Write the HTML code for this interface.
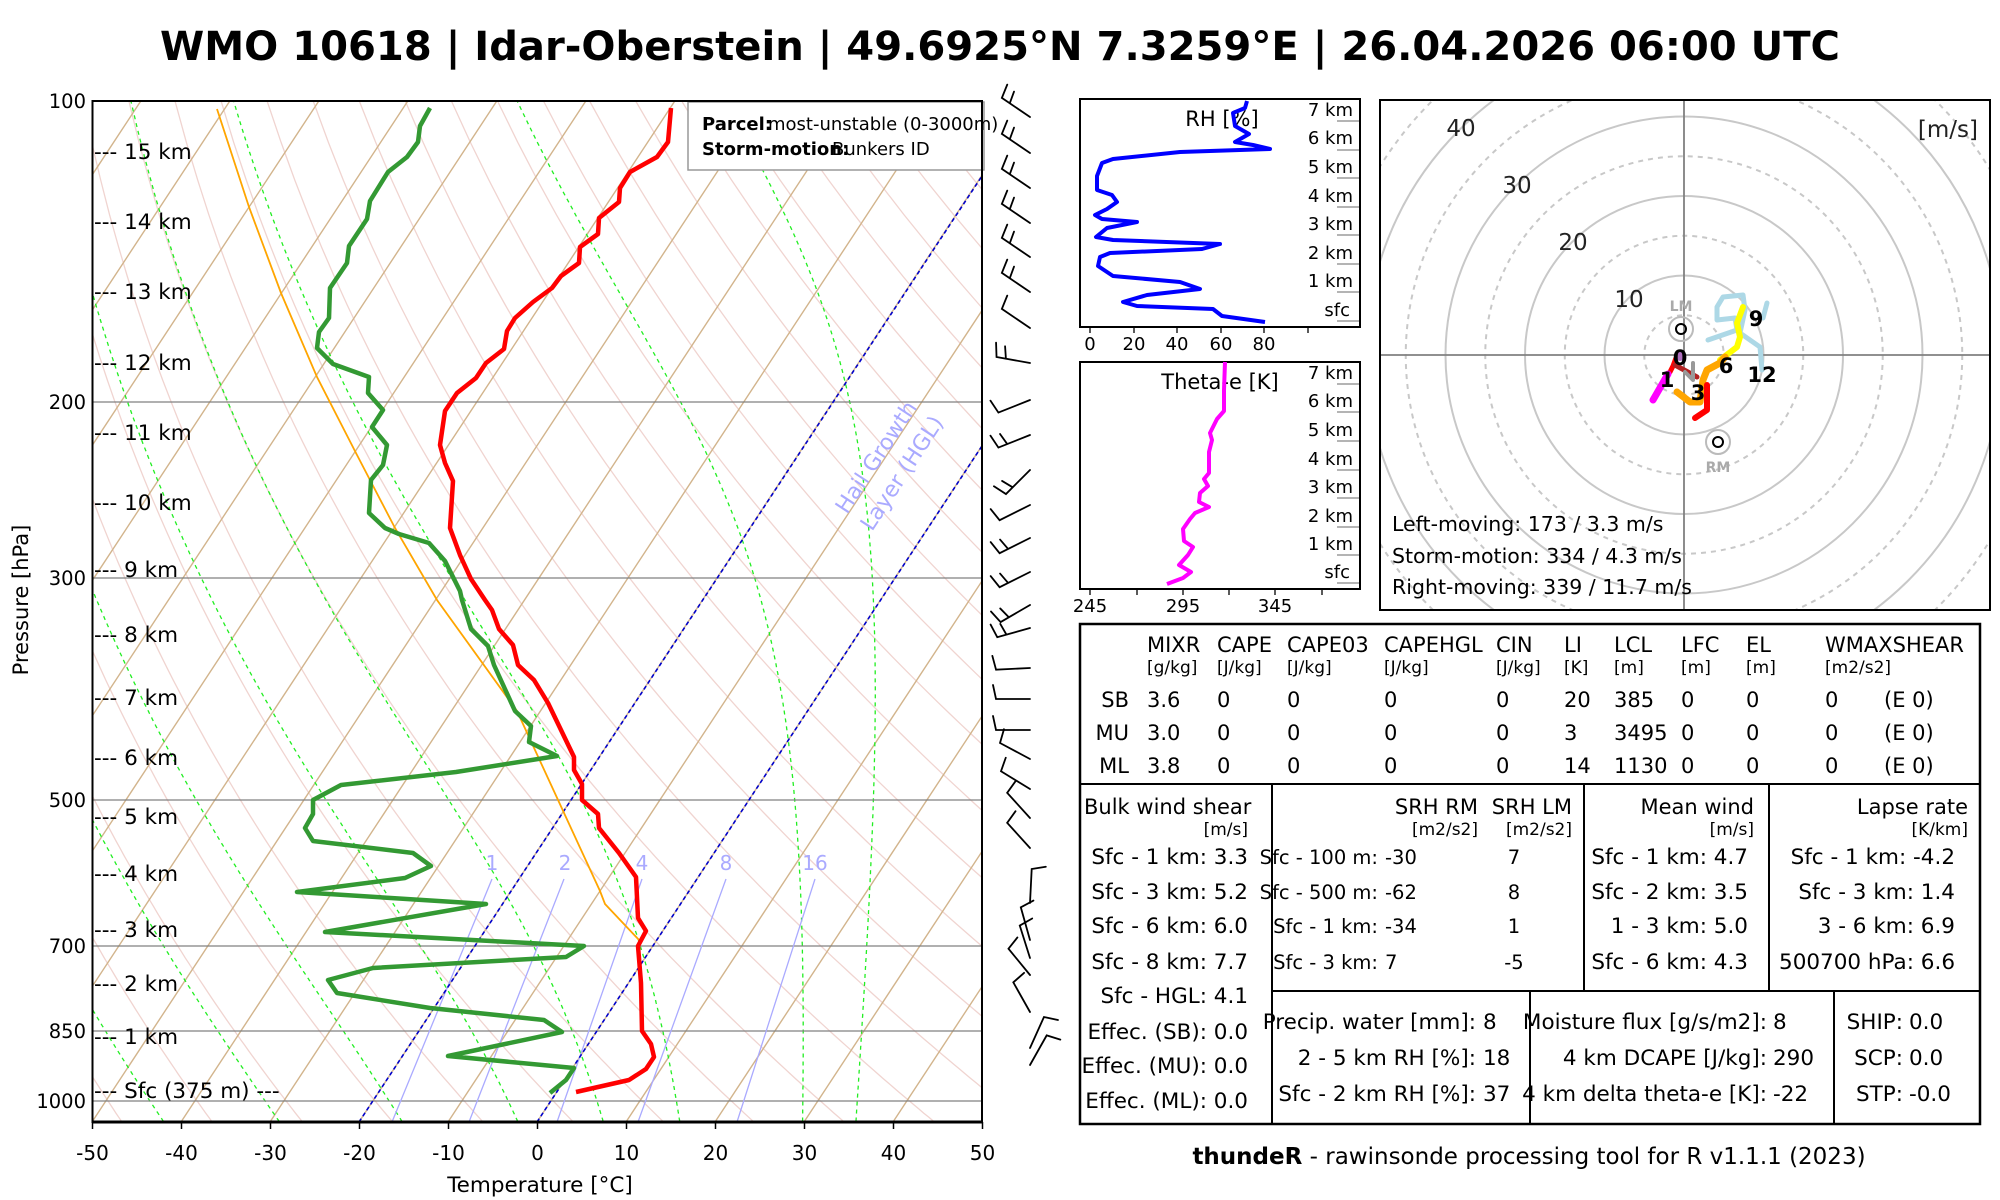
<!DOCTYPE html>
<html><head><meta charset="utf-8">
<style>
html,body{margin:0;padding:0;background:#fff;}
svg{display:block;font-family:"DejaVu Sans","Liberation Sans",sans-serif;}
</style></head>
<body>
<svg id="s" width="2000" height="1200" viewBox="0 0 2000 1200" xmlns="http://www.w3.org/2000/svg">
<rect width="2000" height="1200" fill="#fff"/>
<defs>
<clipPath id="pc"><rect x="92.5" y="101" width="889.5" height="1021"/></clipPath>
<clipPath id="hc"><rect x="1380" y="100" width="610" height="510"/></clipPath>
</defs>
<text x="1000" y="60" text-anchor="middle" font-size="40" font-weight="bold" textLength="1680" lengthAdjust="spacingAndGlyphs">WMO 10618 | Idar-Oberstein | 49.6925°N 7.3259°E | 26.04.2026 06:00 UTC</text>

<g id="bg" clip-path="url(#pc)"></g>
<g clip-path="url(#pc)">
<g stroke="#808080" stroke-width="1.3">
<line x1="92" y1="402" x2="982" y2="402"/><line x1="92" y1="578" x2="982" y2="578"/>
<line x1="92" y1="800" x2="982" y2="800"/><line x1="92" y1="946" x2="982" y2="946"/>
<line x1="92" y1="1031" x2="982" y2="1031"/><line x1="92" y1="1101" x2="982" y2="1101"/>
</g>
<g stroke="#aaaaff" stroke-width="1.3">
<line x1="492" y1="879" x2="392" y2="1122"/><line x1="564" y1="879" x2="469" y2="1122"/>
<line x1="642" y1="879" x2="557" y2="1122"/><line x1="726" y1="879" x2="638" y2="1122"/>
<line x1="815" y1="879" x2="737" y2="1122"/>
</g>
<g fill="#aaaaff" font-size="20" text-anchor="middle">
<text x="492" y="870">1</text><text x="565" y="870">2</text><text x="642" y="870">4</text><text x="726" y="870">8</text><text x="815" y="870">16</text>
</g>
<g stroke="#0000cc" stroke-width="1.6" stroke-dasharray="4,3">
<line x1="359" y1="1122" x2="982" y2="176"/><line x1="537" y1="1122" x2="982" y2="446"/>
</g>
<g fill="#aaaaff" font-size="22">
<text transform="translate(847,515) rotate(-56.7)">Hail Growth</text>
<text transform="translate(872,532) rotate(-56.7)">Layer (HGL)</text>
</g>
<polyline fill="none" stroke="orange" stroke-width="1.8" points="217,109 249,207 281,293 317,377 357,455 395,528 437,600 517,711 600,891 605,904 640,941"/>
<polyline fill="none" stroke="#ff0000" stroke-width="4.5" stroke-linejoin="round" points="671,108 668,142 657,157 630,172 620,188 619,202 599,218 598,234 580,247 579,263 561,276 552,288 533,302 515,318 507,331 504,349 486,363 476,378 457,393 445,411 440,445 445,463 453,481 450,528 460,555 471,579 485,600 492,610 499,629 513,645 518,665 534,680 548,703 574,757 574,770 582,784 582,800 598,814 599,828 619,853 636,877 638,918 646,931 638,946 641,983 642,1031 651,1044 654,1057 646,1069 629,1080 576,1092"/>
<polyline fill="none" stroke="#339933" stroke-width="4.5" stroke-linejoin="round" points="430,108 420,126 418,142 407,157 388,172 370,201 367,219 349,246 347,263 330,288 329,318 319,332 317,348 333,364 369,377 368,393 383,410 372,427 387,445 383,465 371,480 369,513 385,528 399,534 429,543 445,561 460,591 462,600 471,629 488,646 494,665 515,711 531,726 529,742 557,756 456,772 341,785 313,800 313,814 305,828 313,841 413,853 431,866 405,878 297,892 486,904 325,932 584,946 566,957 373,968 328,980 337,993 430,1008 544,1020 562,1032 448,1056 574,1068 566,1080 550,1093"/>
</g>
<rect x="688" y="102" width="296" height="68" fill="#fff" stroke="#999" stroke-width="1.5"/>
<text x="702" y="130" font-size="18" font-weight="bold">Parcel:</text>
<text x="768" y="130" font-size="18">most-unstable (0-3000m)</text>
<text x="702" y="155" font-size="18" font-weight="bold">Storm-motion:</text>
<text x="832" y="155" font-size="18">Bunkers ID</text>
<rect x="92.5" y="101" width="889.5" height="1021" fill="none" stroke="#000" stroke-width="2"/>
<line x1="92" y1="1122" x2="983" y2="1122" stroke="#000" stroke-width="3"/>
<g id="xt" stroke="#000" stroke-width="1.5"></g>
<g font-size="20" text-anchor="middle" id="xl"></g>
<text x="540" y="1192" font-size="21.5" text-anchor="middle">Temperature [°C]</text>
<g font-size="19.5" text-anchor="end">
<text x="86" y="108">100</text><text x="86" y="409">200</text><text x="86" y="585">300</text>
<text x="86" y="807">500</text><text x="86" y="953">700</text><text x="86" y="1038">850</text><text x="86" y="1108">1000</text>
</g>
<text transform="translate(28,600) rotate(-90)" font-size="21" text-anchor="middle">Pressure [hPa]</text>
<g font-size="21.5">
<text x="94" y="159">--- 15 km</text><text x="94" y="229">--- 14 km</text><text x="94" y="299">--- 13 km</text>
<text x="94" y="370">--- 12 km</text><text x="94" y="440">--- 11 km</text><text x="94" y="510">--- 10 km</text>
<text x="94" y="577">--- 9 km</text><text x="94" y="642">--- 8 km</text><text x="94" y="705">--- 7 km</text>
<text x="94" y="765">--- 6 km</text><text x="94" y="824">--- 5 km</text><text x="94" y="881">--- 4 km</text>
<text x="94" y="937">--- 3 km</text><text x="94" y="991">--- 2 km</text><text x="94" y="1044">--- 1 km</text>
<text x="94" y="1098">--- Sfc (375 m) ---</text>
</g>
<g id="barbs" stroke="#000" stroke-width="1.8" fill="none" stroke-linecap="round"></g>

<!-- RH panel -->
<rect x="1080" y="99" width="280" height="228" fill="none" stroke="#000" stroke-width="2"/>
<text x="1222" y="126" font-size="21" text-anchor="middle">RH [%]</text>
<polyline fill="none" stroke="#0000ff" stroke-width="4" stroke-linejoin="round" points="1247,101 1245,108 1233,113 1235,126 1249,134 1235,142 1253,145 1270,149 1180,152 1113,159 1102,163 1097,176 1097,190 1112,195 1117,202 1107,209 1095,215 1102,219 1137,222 1107,228 1096,237 1113,240 1220,244 1202,249 1110,253 1100,257 1098,266 1113,276 1180,282 1200,289 1147,295 1123,302 1137,306 1213,309 1222,316 1265,322"/>
<g font-size="18" text-anchor="end">
<text x="1353" y="116">7 km</text><text x="1353" y="144">6 km</text><text x="1353" y="173">5 km</text><text x="1353" y="202">4 km</text>
<text x="1353" y="230">3 km</text><text x="1353" y="259">2 km</text><text x="1353" y="287">1 km</text><text x="1350" y="316">sfc</text>
</g>
<g stroke="#888" stroke-width="1.3">
<line x1="1337" y1="121" x2="1359" y2="121"/><line x1="1337" y1="150" x2="1359" y2="150"/><line x1="1337" y1="178" x2="1359" y2="178"/><line x1="1337" y1="207" x2="1359" y2="207"/>
<line x1="1337" y1="235" x2="1359" y2="235"/><line x1="1337" y1="264" x2="1359" y2="264"/><line x1="1337" y1="292" x2="1359" y2="292"/><line x1="1337" y1="321" x2="1359" y2="321"/>
</g>
<g stroke="#000" stroke-width="1.3">
<line x1="1090" y1="327" x2="1090" y2="333"/><line x1="1134" y1="327" x2="1134" y2="333"/><line x1="1177" y1="327" x2="1177" y2="333"/><line x1="1221" y1="327" x2="1221" y2="333"/><line x1="1264" y1="327" x2="1264" y2="333"/><line x1="1308" y1="327" x2="1308" y2="333"/>
</g>
<g font-size="18" text-anchor="middle">
<text x="1090" y="350">0</text><text x="1134" y="350">20</text><text x="1177" y="350">40</text><text x="1221" y="350">60</text><text x="1264" y="350">80</text>
</g>

<!-- Theta-e panel -->
<rect x="1080" y="362" width="280" height="227" fill="none" stroke="#000" stroke-width="2"/>
<text x="1220" y="389" font-size="21" text-anchor="middle">Theta-e [K]</text>
<polyline fill="none" stroke="#ff00ff" stroke-width="4" stroke-linejoin="round" points="1225,362 1224,390 1224,411 1217,419 1210,433 1212,440 1209,452 1209,473 1204,479 1208,486 1200,493 1199,502 1209,507 1195,513 1190,519 1183,529 1184,541 1193,547 1188,555 1179,565 1191,572 1183,578 1167,584"/>
<g font-size="18" text-anchor="end">
<text x="1353" y="379">7 km</text><text x="1353" y="407">6 km</text><text x="1353" y="436">5 km</text><text x="1353" y="465">4 km</text>
<text x="1353" y="493">3 km</text><text x="1353" y="522">2 km</text><text x="1353" y="550">1 km</text><text x="1350" y="578">sfc</text>
</g>
<g stroke="#888" stroke-width="1.3">
<line x1="1337" y1="384" x2="1359" y2="384"/><line x1="1337" y1="412" x2="1359" y2="412"/><line x1="1337" y1="441" x2="1359" y2="441"/><line x1="1337" y1="470" x2="1359" y2="470"/>
<line x1="1337" y1="498" x2="1359" y2="498"/><line x1="1337" y1="527" x2="1359" y2="527"/><line x1="1337" y1="555" x2="1359" y2="555"/><line x1="1337" y1="583" x2="1359" y2="583"/>
</g>
<g stroke="#000" stroke-width="1.3">
<line x1="1090" y1="589" x2="1090" y2="595"/><line x1="1137" y1="589" x2="1137" y2="595"/><line x1="1183" y1="589" x2="1183" y2="595"/><line x1="1229" y1="589" x2="1229" y2="595"/><line x1="1275" y1="589" x2="1275" y2="595"/><line x1="1322" y1="589" x2="1322" y2="595"/>
</g>
<g font-size="18" text-anchor="middle">
<text x="1090" y="612">245</text><text x="1183" y="612">295</text><text x="1275" y="612">345</text>
</g>

<!-- Hodograph -->
<g clip-path="url(#hc)" id="hodo" fill="none">
<line x1="1380" y1="355" x2="1990" y2="355" stroke="#808080" stroke-width="1.8"/>
<line x1="1684" y1="100" x2="1684" y2="610" stroke="#808080" stroke-width="1.8"/>
</g>
<rect x="1380" y="100" width="610" height="510" fill="none" stroke="#000" stroke-width="2"/>
<g font-size="23" fill="#222">
<text x="1629" y="307" text-anchor="middle">10</text><text x="1573" y="250" text-anchor="middle">20</text>
<text x="1517" y="193" text-anchor="middle">30</text><text x="1461" y="136" text-anchor="middle">40</text>
<text x="1978" y="137" text-anchor="end">[m/s]</text>
</g>
<g fill="none" stroke-linecap="round" stroke-linejoin="round">
<circle cx="1681" cy="329" r="12" stroke="#bbb" stroke-width="2"/>
<circle cx="1681" cy="329" r="5" stroke="#000" stroke-width="2"/>
<circle cx="1718" cy="442" r="12" stroke="#bbb" stroke-width="2"/>
<circle cx="1718" cy="442" r="5" stroke="#000" stroke-width="2"/>
<polyline stroke="#add8e6" stroke-width="5" points="1708,340 1737,330 1735,318 1717,320 1717,307 1723,297 1743,295 1745,310 1740,333 1760,347 1762,370"/>
<polyline stroke="#add8e6" stroke-width="5" points="1767,303 1763,318"/>
<polyline stroke="#ffff00" stroke-width="6" points="1720,360 1737,347 1740,337 1737,323 1743,307"/>
<polyline stroke="#ffa500" stroke-width="7" points="1677,392 1690,402 1700,402 1703,380 1707,370 1720,363 1725,357"/>
<polyline stroke="#ff0000" stroke-width="6" points="1707,385 1707,410 1695,418"/>
<polyline stroke="#ff0000" stroke-width="5" points="1676,358 1673,366 1670,372"/>
<polyline stroke="#b22222" stroke-width="5" points="1675,365 1697,377"/>
<polyline stroke="#999" stroke-width="4" points="1693,363 1693,380 1685,372"/>
<polyline stroke="#ff00ff" stroke-width="7" points="1653,400 1668,374"/>
<circle cx="1680" cy="356" r="5" fill="#b070c0" stroke="none"/>
</g>
<g font-size="14" font-weight="bold" fill="#aaa" text-anchor="middle">
<text x="1681" y="311">LM</text><text x="1718" y="472">RM</text>
</g>
<g font-size="21" font-weight="bold" text-anchor="middle">
<text x="1680" y="365">0</text><text x="1667" y="387">1</text><text x="1698" y="400">3</text>
<text x="1726" y="373">6</text><text x="1756" y="326">9</text><text x="1762" y="382">12</text>
</g>
<g font-size="20.5">
<text x="1392" y="531">Left-moving: 173 / 3.3 m/s</text>
<text x="1392" y="563">Storm-motion: 334 / 4.3 m/s</text>
<text x="1392" y="594">Right-moving: 339 / 11.7 m/s</text>
</g>

<!-- Table -->
<rect x="1080" y="624" width="900" height="500" fill="none" stroke="#000" stroke-width="2.5"/>
<g stroke="#000" stroke-width="2">
<line x1="1080" y1="784" x2="1980" y2="784"/>
<line x1="1272" y1="784" x2="1272" y2="1124"/>
<line x1="1584" y1="784" x2="1584" y2="991"/>
<line x1="1769" y1="784" x2="1769" y2="991"/>
<line x1="1272" y1="991" x2="1980" y2="991"/>
<line x1="1530" y1="991" x2="1530" y2="1124"/>
<line x1="1834" y1="991" x2="1834" y2="1124"/>
</g>
<g font-size="21">
<text x="1147" y="652">MIXR</text><text x="1217" y="652">CAPE</text><text x="1287" y="652">CAPE03</text><text x="1384" y="652">CAPEHGL</text>
<text x="1496" y="652">CIN</text><text x="1564" y="652">LI</text><text x="1614" y="652">LCL</text><text x="1681" y="652">LFC</text>
<text x="1746" y="652">EL</text><text x="1825" y="652">WMAXSHEAR</text>
</g>
<g font-size="17">
<text x="1147" y="673">[g/kg]</text><text x="1217" y="673">[J/kg]</text><text x="1287" y="673">[J/kg]</text><text x="1384" y="673">[J/kg]</text>
<text x="1496" y="673">[J/kg]</text><text x="1564" y="673">[K]</text><text x="1614" y="673">[m]</text><text x="1681" y="673">[m]</text>
<text x="1746" y="673">[m]</text><text x="1825" y="673">[m2/s2]</text>
</g>
<g font-size="21">
<text x="1129" y="707" text-anchor="end">SB</text><text x="1147" y="707">3.6</text><text x="1217" y="707">0</text><text x="1287" y="707">0</text><text x="1384" y="707">0</text><text x="1496" y="707">0</text><text x="1564" y="707">20</text><text x="1614" y="707">385</text><text x="1681" y="707">0</text><text x="1746" y="707">0</text><text x="1825" y="707">0</text><text x="1884" y="707">(E 0)</text>
<text x="1129" y="740" text-anchor="end">MU</text><text x="1147" y="740">3.0</text><text x="1217" y="740">0</text><text x="1287" y="740">0</text><text x="1384" y="740">0</text><text x="1496" y="740">0</text><text x="1564" y="740">3</text><text x="1614" y="740">3495</text><text x="1681" y="740">0</text><text x="1746" y="740">0</text><text x="1825" y="740">0</text><text x="1884" y="740">(E 0)</text>
<text x="1129" y="773" text-anchor="end">ML</text><text x="1147" y="773">3.8</text><text x="1217" y="773">0</text><text x="1287" y="773">0</text><text x="1384" y="773">0</text><text x="1496" y="773">0</text><text x="1564" y="773">14</text><text x="1614" y="773">1130</text><text x="1681" y="773">0</text><text x="1746" y="773">0</text><text x="1825" y="773">0</text><text x="1884" y="773">(E 0)</text>
</g>
<g font-size="21">
<text x="1084" y="814">Bulk wind shear</text>
<text x="1478" y="814" text-anchor="end">SRH RM</text><text x="1572" y="814" text-anchor="end">SRH LM</text>
<text x="1754" y="814" text-anchor="end">Mean wind</text>
<text x="1968" y="814" text-anchor="end">Lapse rate</text>
</g>
<g font-size="17" text-anchor="end">
<text x="1248" y="835">[m/s]</text><text x="1478" y="835">[m2/s2]</text><text x="1572" y="835">[m2/s2]</text>
<text x="1754" y="835">[m/s]</text><text x="1968" y="835">[K/km]</text>
</g>
<g font-size="21.5" text-anchor="end">
<text x="1248" y="864">Sfc - 1 km: 3.3</text><text x="1248" y="899">Sfc - 3 km: 5.2</text><text x="1248" y="933">Sfc - 6 km: 6.0</text>
<text x="1248" y="969">Sfc - 8 km: 7.7</text><text x="1248" y="1003">Sfc - HGL: 4.1</text><text x="1248" y="1039">Effec. (SB): 0.0</text>
<text x="1248" y="1073">Effec. (MU): 0.0</text><text x="1248" y="1108">Effec. (ML): 0.0</text>
<text x="1748" y="864">Sfc - 1 km: 4.7</text><text x="1748" y="899">Sfc - 2 km: 3.5</text><text x="1748" y="933">1 - 3 km: 5.0</text><text x="1748" y="969">Sfc - 6 km: 4.3</text>
<text x="1955" y="864">Sfc - 1 km: -4.2</text><text x="1955" y="899">Sfc - 3 km: 1.4</text><text x="1955" y="933">3 - 6 km: 6.9</text><text x="1955" y="969">500700 hPa: 6.6</text>
<text x="1476" y="1029">Precip. water [mm]:</text><text x="1476" y="1065">2 - 5 km RH [%]:</text><text x="1476" y="1101">Sfc - 2 km RH [%]:</text>
<text x="1767" y="1029">Moisture flux [g/s/m2]:</text><text x="1767" y="1065">4 km DCAPE [J/kg]:</text><text x="1767" y="1101">4 km delta theta-e [K]:</text>
<text x="1903" y="1029">SHIP:</text><text x="1903" y="1065">SCP:</text><text x="1903" y="1101">STP:</text>
</g>
<g font-size="19.5" text-anchor="end">
<text x="1378" y="864">Sfc - 100 m:</text><text x="1378" y="899">Sfc - 500 m:</text><text x="1378" y="933">Sfc - 1 km:</text><text x="1378" y="969">Sfc - 3 km:</text>
</g>
<g font-size="19.5">
<text x="1385" y="864">-30</text><text x="1385" y="899">-62</text><text x="1385" y="933">-34</text><text x="1385" y="969">7</text>
<text x="1514" y="864" text-anchor="middle">7</text><text x="1514" y="899" text-anchor="middle">8</text><text x="1514" y="933" text-anchor="middle">1</text><text x="1514" y="969" text-anchor="middle">-5</text>
</g>
<g font-size="21.5">
<text x="1483" y="1029">8</text><text x="1483" y="1065">18</text><text x="1483" y="1101">37</text>
<text x="1773" y="1029">8</text><text x="1773" y="1065">290</text><text x="1773" y="1101">-22</text>
<text x="1909" y="1029">0.0</text><text x="1909" y="1065">0.0</text><text x="1909" y="1101">-0.0</text>
</g>
<text x="1529" y="1164" font-size="23" text-anchor="middle"><tspan font-weight="bold">thundeR</tspan> - rawinsonde processing tool for R v1.1.1 (2023)</text>
</svg>
<script>
(function(){
var NS="http://www.w3.org/2000/svg";
function el(p,n,a){var e=document.createElementNS(NS,n);for(var k in a)e.setAttribute(k,a[k]);p.appendChild(e);return e;}
function Y(p){return 101+434*Math.log(p/100);}
function X(T,y){return 537+8.9*T+0.658*(1122-y);}
var bg=document.getElementById("bg");
for(var th=163.3;th<=560;th+=10){var pts=[];for(var p=1060;p>=95;p-=10){var T=th*Math.pow(p/1000,0.286)-273.15;var y=Y(p);pts.push(X(T,y).toFixed(1)+","+y.toFixed(1));}
el(bg,"polyline",{points:pts.join(" "),fill:"none",stroke:"#f0d4d0","stroke-width":1.3});}
for(var t=-170;t<=50;t+=10){el(bg,"line",{x1:X(t,1122),y1:1122,x2:X(t,101),y2:101,stroke:"#d2b48c","stroke-width":1.4});}
var starts=[-42,-29,-15.2,-2.2,7.4,16,29.8,35.8];
function es(Tc){return 6.112*Math.exp(17.67*Tc/(Tc+243.5));}
starts.forEach(function(T0){var T=T0+273.15,p=1050,pts=[];
while(p>=95){var y=Y(p);pts.push(X(T-273.15,y).toFixed(1)+","+y.toFixed(1));
var e=es(T-273.15),rs=0.622*e/(p-e);var dTdp=(287*T+2.5e6*rs)/(p*(1004+2.5e6*2.5e6*rs*0.622/(287*T*T)));
var dp=-2;T+=dTdp*dp;p+=dp;}
el(bg,"polyline",{points:pts.join(" "),fill:"none",stroke:"#22ee22","stroke-width":1.3,"stroke-dasharray":"4,4"});});
var xt=document.getElementById("xt"),xl=document.getElementById("xl");
for(var i=0;i<=10;i++){var x=92.5+89*i;el(xt,"line",{x1:x,y1:1122,x2:x,y2:1129});var tx=el(xl,"text",{x:x,y:1160});tx.textContent=String(-50+10*i);}
var h=document.getElementById("hodo");
for(var r=5;r<=60;r+=5){var a={cx:1684,cy:355,r:r*7.95,stroke:"#c8c8c8","stroke-width":2};if(r%10)a["stroke-dasharray"]="5,5";h.insertBefore(el(h,"circle",a),h.firstChild);}
var B=[[117,-28,-19,2],[153,-28,-19,2],[188,-28,-19,2],[223,-28,-19,2],[257,-28,-19,2],[292,-28,-19,2],[328,-28,-19,1],
[363,-1,-0.18,2],[400,-0.93,0.37,1],[435,-0.93,0.37,2],[470,-0.7,0.7,2],[505,-0.9,0.45,1],[538,-0.9,0.45,2],[572,-0.9,0.45,2],
[605,-0.86,0.5,2],[628,-0.96,0.27,2],[668,-1,0.05,1],[699,-1,0,1],[730,-1,0,1],[759,-0.88,-0.47,1],[789,-0.85,-0.52,1],
[818,-0.67,-0.74,1],[848,-0.67,-0.74,1],[903,0.05,-1,1],[940,-0.27,-0.96,1],[958,-0.3,-0.95,1],[975,-0.63,-0.77,1],[1012,-0.49,-0.87,1],[1048,0.41,-0.91,1],[1065,0.49,-0.87,1]];
var g=document.getElementById("barbs");
B.forEach(function(b){var ax=1030,ay=b[0],dx=b[1],dy=b[2],n=Math.hypot(dx,dy);dx/=n;dy/=n;var L=34;
var tx=ax+dx*L,ty=ay+dy*L;var px=-dy,py=dx;
var d="M"+ax+","+ay+"L"+tx+","+ty+"L"+(tx+px*14+dx*3)+","+(ty+py*14+dy*3);
if(b[3]>1){var mx=ax+dx*L*0.72,my=ay+dy*L*0.72;d+="M"+mx+","+my+"L"+(mx+px*12+dx*3)+","+(my+py*12+dy*3);}
el(g,"path",{d:d});});
})();
</script>
</body></html>
